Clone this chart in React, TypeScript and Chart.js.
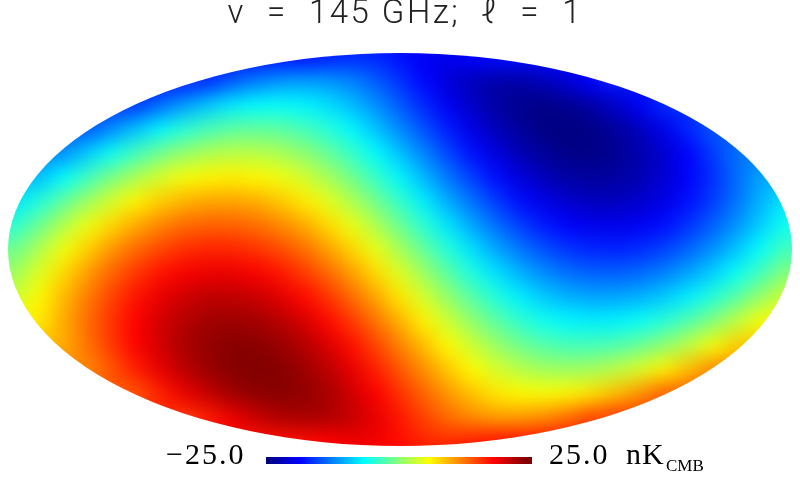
import React, { useEffect, useRef } from "react";
import { Chart, registerables } from "chart.js";

Chart.register(...registerables);

// Temperatures (nK) on a regular grid, north to south; each row is centred on the map's meridian.
const rowN9 = [-18.2,-18.2,-18.2,-18.2,-18.2,-18.2,-18.2,-18.2,-18.2,-18.2,-18.2,-18.2,-18.2,-18.2,-18.2,-18.2,-18.2];
const rowN8 = [-18.2,-18.2,-18.2,-18.2,-18.2,-17.5,-16.7,-16.9,-18.1,-19.3,-19.7,-18.9,-18.2,-18.2,-18.2,-18.2,-18.2];
const rowN7 = [-17.7,-17.7,-17.7,-16.7,-14.4,-12.6,-11.4,-11.0,-11.3,-12.4,-14.2,-16.3,-18.6,-20.6,-22.1,-23.0,-23.0,-22.2,-20.7,-18.8,-17.7,-17.7,-17.7];
const rowN6 = [-16.4,-16.4,-16.4,-16.1,-13.5,-11.0,-8.9,-7.2,-6.3,-6.0,-6.6,-7.7,-9.5,-11.7,-14.3,-16.9,-19.4,-21.5,-23.3,-24.3,-24.7,-24.2,-23.1,-21.4,-19.2,-16.7,-16.4,-16.4,-16.4];
const rowN5 = [-14.5,-14.5,-14.5,-11.8,-9.1,-6.6,-4.4,-2.8,-1.7,-1.4,-1.7,-2.8,-4.4,-6.5,-9.2,-12.0,-14.8,-17.5,-20.0,-22.2,-23.7,-24.7,-25.0,-24.7,-23.6,-22.0,-19.8,-17.1,-14.5,-14.5,-14.5];
const rowN4 = [-12.4,-12.4,-11.7,-8.6,-5.7,-3.1,-0.7,1.0,2.3,2.9,2.8,2.1,0.7,-1.2,-3.6,-6.3,-9.3,-12.3,-15.3,-18.1,-20.4,-22.4,-23.8,-24.6,-24.7,-24.1,-22.8,-21.1,-18.8,-16.0,-13.2,-12.4,-12.4];
const rowN3 = [-10.0,-9.4,-6.2,-3.2,-0.3,2.2,4.2,5.8,6.7,7.0,6.6,5.6,4.1,1.9,-0.6,-3.6,-6.6,-9.8,-12.9,-15.7,-18.3,-20.5,-22.2,-23.2,-23.6,-23.4,-22.5,-21.0,-19.0,-16.6,-13.7,-10.7,-10.0];
const rowN2 = [-7.4,-4.7,-1.5,1.5,4.3,6.7,8.6,9.9,10.6,10.7,10.2,9.0,7.2,5.0,2.3,-0.6,-3.8,-7.0,-10.3,-13.2,-15.9,-18.2,-20.0,-21.2,-21.9,-21.9,-21.2,-20.0,-18.2,-15.9,-13.2,-10.1,-7.4];
const rowN1 = [-4.0,-0.8,2.5,5.5,8.2,10.4,12.2,13.5,14.1,14.0,13.4,12.1,10.4,8.0,5.3,2.3,-0.9,-4.2,-7.5,-10.5,-13.3,-15.7,-17.6,-18.9,-19.7,-19.8,-19.3,-18.2,-16.4,-14.2,-11.6,-8.7,-5.5];
const rowEq = [-0.8,2.4,5.7,8.6,11.4,13.6,15.3,16.5,17.1,17.0,16.3,15.1,13.3,10.9,8.2,5.2,1.9,-1.4,-4.6,-7.7,-10.5,-12.9,-14.9,-16.3,-17.0,-17.2,-16.7,-15.6,-13.9,-11.8,-9.2,-6.2,-3.0];
const rowS1 = [1.6,4.9,8.1,11.1,13.9,16.1,17.9,19.1,19.7,19.7,19.0,17.8,16.0,13.7,11.0,8.0,4.7,1.5,-1.8,-4.9,-7.6,-10.0,-11.9,-13.3,-14.0,-14.1,-13.6,-12.5,-10.7,-8.6,-5.9,-3.0,0.2];
const rowS2 = [3.8,6.6,9.7,12.7,15.5,17.9,19.8,21.1,21.9,21.9,21.4,20.2,18.4,16.3,13.5,10.6,7.4,4.2,1.0,-1.9,-4.7,-7.0,-8.8,-10.0,-10.6,-10.6,-10.0,-8.8,-7.0,-4.6,-1.9,1.1,3.8];
const rowS3 = [6.6,7.2,10.4,13.4,16.3,18.8,20.8,22.4,23.3,23.6,23.2,22.3,20.7,18.5,16.0,13.1,10.0,6.8,3.8,0.9,-1.7,-3.9,-5.5,-6.6,-7.0,-6.8,-5.9,-4.4,-2.4,0.1,3.0,5.9,6.6];
const rowS4 = [9.3,9.3,10.1,13.2,16.0,18.7,21.0,22.8,24.0,24.6,24.5,23.8,22.5,20.5,18.1,15.4,12.4,9.4,6.4,3.7,1.3,-0.7,-2.1,-2.8,-2.9,-2.4,-1.1,0.7,3.0,5.7,8.6,9.3,9.3];
const rowS5 = [12.0,12.0,12.0,14.6,17.4,19.9,22.1,23.7,24.7,25.0,24.7,23.6,22.1,19.9,17.3,14.5,11.7,8.9,6.4,4.3,2.7,1.7,1.4,1.8,2.9,4.5,6.7,9.3,12.0,12.0,12.0];
const rowS6 = [14.3,14.3,14.3,14.6,17.2,19.7,21.8,23.4,24.3,24.6,24.1,23.0,21.1,18.9,16.4,13.8,11.3,9.1,7.4,6.4,6.0,6.5,7.5,9.3,11.4,14.0,14.3,14.3,14.3];
const rowS7 = [16.3,16.3,16.3,17.4,19.6,21.5,22.7,23.1,22.8,21.6,19.9,17.7,15.5,13.5,12.0,11.0,11.1,11.9,13.3,15.3,16.3,16.3,16.3];
const rowS8 = [18.1,18.1,18.1,18.1,18.1,18.8,19.6,19.4,18.2,17.0,16.6,17.4,18.1,18.1,18.1,18.1,18.1];
const rowS9 = [18.2,18.2,18.2,18.2,18.2,18.2,18.2,18.2,18.2,18.2,18.2,18.2,18.2,18.2,18.2,18.2,18.2];

const mapRows = [rowN9,rowN8,rowN7,rowN6,rowN5,rowN4,rowN3,rowN2,rowN1,rowEq,rowS1,rowS2,rowS3,rowS4,rowS5,rowS6,rowS7,rowS8,rowS9];

const colorbarValues = [
  -25,-24.5,-24,-23.5,-23,-22.5,-22,-21.5,-21,-20.5,-20,-19.5,-19,-18.5,-18,-17.5,-17,-16.5,-16,-15.5,
  -15,-14.5,-14,-13.5,-13,-12.5,-12,-11.5,-11,-10.5,-10,-9.5,-9,-8.5,-8,-7.5,-7,-6.5,-6,-5.5,
  -5,-4.5,-4,-3.5,-3,-2.5,-2,-1.5,-1,-0.5,0,0.5,1,1.5,2,2.5,3,3.5,4,4.5,
  5,5.5,6,6.5,7,7.5,8,8.5,9,9.5,10,10.5,11,11.5,12,12.5,13,13.5,14,14.5,
  15,15.5,16,16.5,17,17.5,18,18.5,19,19.5,20,20.5,21,21.5,22,22.5,23,23.5,24,24.5,25,
];

const titleText = " \u03BD  =  145 GHz;  \u2113  =  1";
const minLabel = "\u221225.0";
const maxLabel = "25.0";
const unitLabel = "nK";
const unitSubLabel = "CMB";

const VMAX = 25;
const CELL_X = 24 / 392;
const CELL_Y = 24 / 196.5;
const BAR_Y = -1.0738;
const BAR_CENTRE = -1 / 392;
const BAR_SLOPE = 5.18 / 392;

function jet(value: number): string {
  const t = (value + VMAX) / (2 * VMAX);
  const ch = (c: number) => Math.round(255 * Math.max(0, Math.min(1, 1.5 - Math.abs(4 * t - c))));
  return `rgb(${ch(3)},${ch(2)},${ch(1)})`;
}

function mapPoints() {
  const pts: { x: number; y: number; v: number }[] = [];
  mapRows.forEach((row, r) => {
    const half = (row.length - 1) / 2;
    row.forEach((v, i) => {
      pts.push({ x: (i - half) * CELL_X, y: (9 - r) * CELL_Y, v });
    });
  });
  return pts;
}

const titleSpacing = {
  id: "titleSpacing",
  beforeDraw(chart: any) {
    chart.ctx.letterSpacing = "2.5px";
  },
  beforeDatasetsDraw(chart: any) {
    chart.ctx.letterSpacing = "0px";
  },
};

const smoothMap = {
  id: "smoothMap",
  afterDatasetDraw(chart: any, args: any) {
    if (args.index !== 0) return;
    const { ctx, canvas, chartArea: a, scales } = chart;
    const pad = 48;
    const W = canvas.width;
    const h = a.bottom - a.top;
    const off = document.createElement("canvas");
    off.width = W + 2 * pad;
    off.height = canvas.height;
    const o = off.getContext("2d")!;
    o.drawImage(canvas, 0, a.top, W, h, pad, a.top, W, h);
    o.drawImage(canvas, 5, a.top, 1, h, 0, a.top, pad + 5, h);
    o.drawImage(canvas, W - 6, a.top, 1, h, pad + W - 5, a.top, pad + 5, h);
    const cx = scales.x.getPixelForValue(0);
    const cy = scales.y.getPixelForValue(0);
    const rx = scales.x.getPixelForValue(1) - cx;
    const ry = cy - scales.y.getPixelForValue(1);
    ctx.save();
    ctx.clearRect(a.left, a.top, a.right - a.left, h);
    ctx.beginPath();
    ctx.ellipse(cx, cy, rx, ry, 0, 0, Math.PI * 2);
    ctx.clip();
    ctx.filter = "blur(10px)";
    ctx.drawImage(off, -pad, 0);
    ctx.restore();
  },
};

const colorbarText = {
  id: "colorbarText",
  afterDraw(chart: any) {
    const { ctx } = chart;
    ctx.save();
    ctx.fillStyle = "#000";
    ctx.textBaseline = "alphabetic";
    ctx.textAlign = "left";
    ctx.font = "30px 'Liberation Serif'";
    ctx.letterSpacing = "2px";
    ctx.fillText(minLabel, 166, 464);
    ctx.fillText(maxLabel, 549, 464);
    ctx.letterSpacing = "1px";
    ctx.fillText(unitLabel, 626, 464);
    ctx.font = "17px 'Liberation Serif'";
    ctx.letterSpacing = "0px";
    ctx.fillText(unitSubLabel, 666, 471);
    ctx.restore();
  },
};

export default function App() {
  const ref = useRef<HTMLCanvasElement>(null);
  useEffect(() => {
    document.body.style.margin = "0";
    const chart = new Chart(ref.current!, {
      type: "scatter",
      data: {
        datasets: [
          {
            label: "Temperature map",
            order: 2,
            clip: 0,
            data: mapPoints(),
            pointStyle: "rect",
            pointRadius: 17.5,
            pointBorderWidth: 0,
            pointBackgroundColor: (c: any) => jet(c.raw?.v ?? 0),
          },
          {
            label: "Colour bar",
            order: 1,
            data: colorbarValues.map((v) => ({ x: BAR_CENTRE + v * BAR_SLOPE, y: BAR_Y, v })),
            pointStyle: "rect",
            pointRadius: 4.95,
            pointBorderWidth: 0,
            pointBackgroundColor: (c: any) => jet(c.raw?.v ?? 0),
          },
        ],
      } as any,
      options: {
        responsive: false,
        animation: false,
        events: [],
        layout: { padding: 0, autoPadding: false },
        plugins: {
          legend: { display: false },
          tooltip: { enabled: false },
          title: {
            display: true,
            text: titleText,
            color: "#222",
            padding: { top: 0, bottom: 0.3 },
            font: { family: "Roboto", size: 33, weight: 300, lineHeight: 0.9 },
          },
        },
        scales: {
          x: { type: "linear", display: false, min: -400 / 392, max: 400 / 392 },
          y: { type: "linear", display: false, min: -250.5 / 196.5, max: 219.5 / 196.5 },
        },
      } as any,
      plugins: [titleSpacing, smoothMap, colorbarText],
    });
    return () => chart.destroy();
  }, []);
  return (
    <div style={{ position: "absolute", left: 0, top: 0, width: 800, height: 500 }}>
      <canvas ref={ref} width={800} height={500} style={{ display: "block" }} />
    </div>
  );
}
